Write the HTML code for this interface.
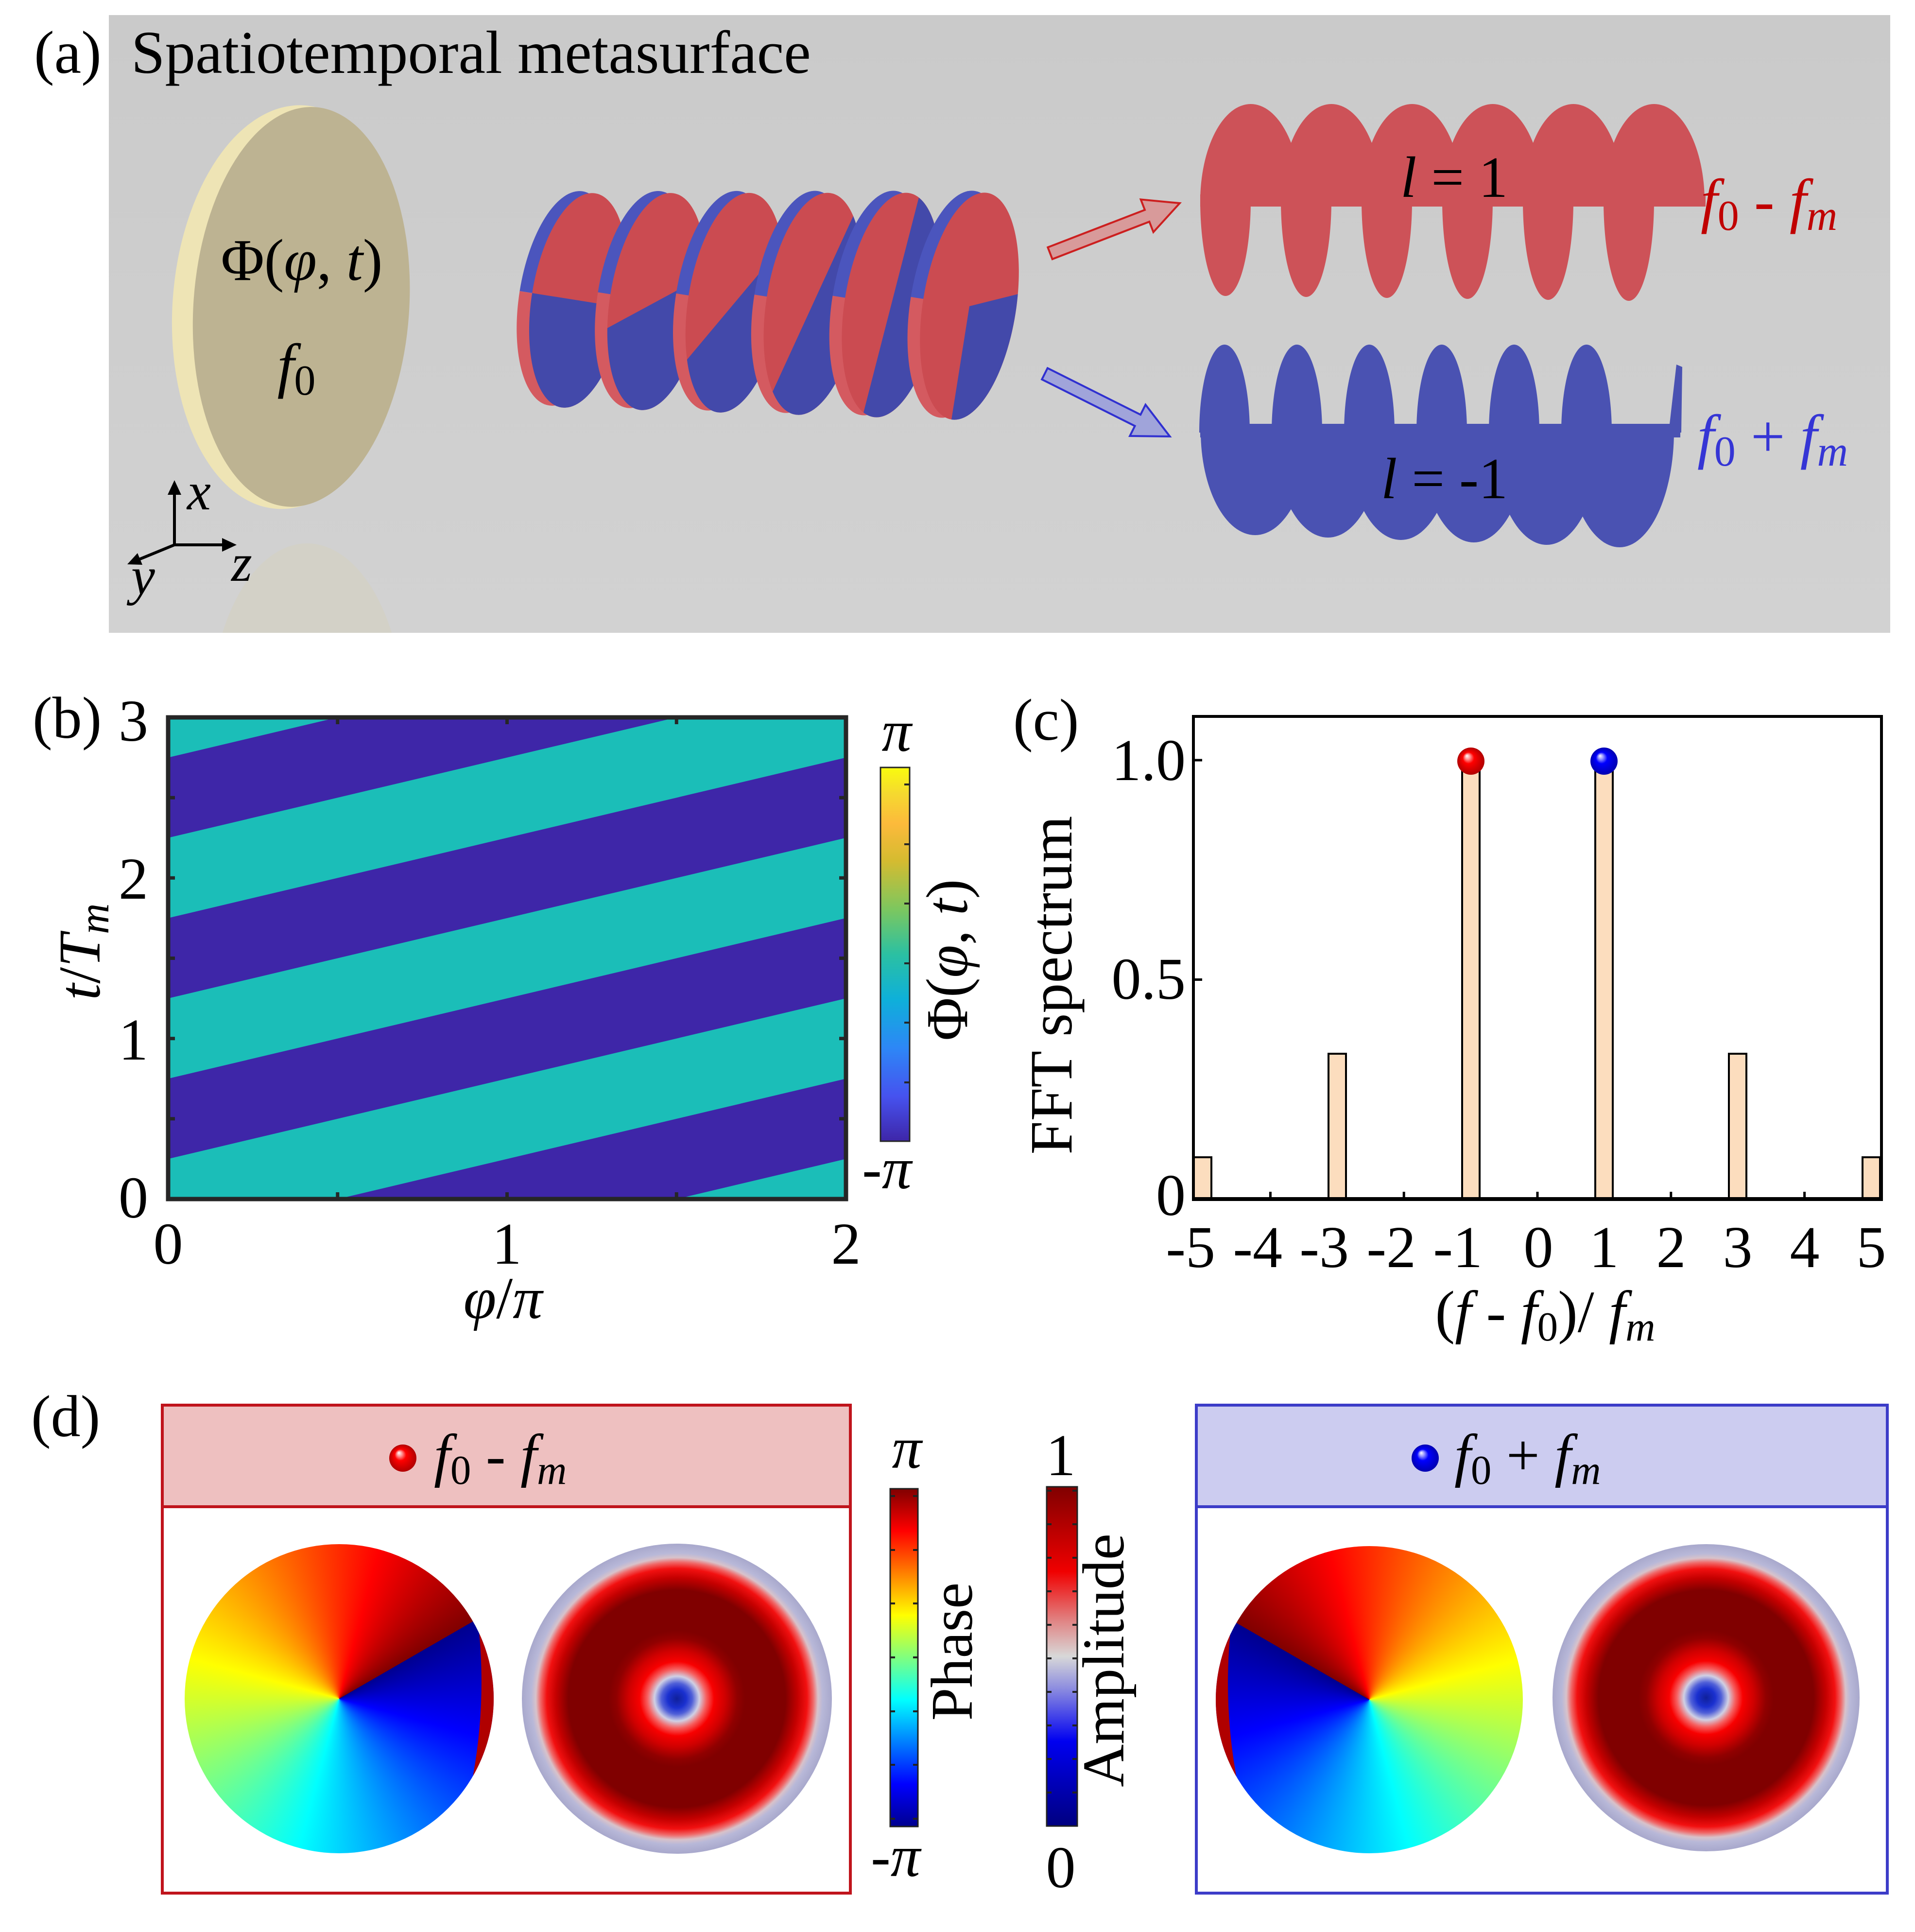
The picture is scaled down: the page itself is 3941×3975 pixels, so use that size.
<!DOCTYPE html>
<html><head><meta charset="utf-8"><style>
html,body{margin:0;padding:0;background:#fff;}
#root{position:relative;width:3941px;height:3975px;overflow:hidden;background:#fff;}
svg{position:absolute;left:0;top:0;}
.pd{position:absolute;border-radius:50%;}
</style></head><body><div id="root">
<svg width="3941" height="3975" viewBox="0 0 3941 3975" font-family="'Liberation Serif', serif">
<defs>
<linearGradient id="bgA" x1="0" y1="0" x2="0" y2="1"><stop offset="0" stop-color="#CACACA"/><stop offset="1" stop-color="#D2D2D2"/></linearGradient>
<linearGradient id="parula" x1="0" y1="1" x2="0" y2="0">
<stop offset="0" stop-color="#3E26A8"/><stop offset="0.12" stop-color="#4652EF"/><stop offset="0.25" stop-color="#2D87F6"/><stop offset="0.38" stop-color="#0EB0D9"/><stop offset="0.5" stop-color="#2BC0A2"/><stop offset="0.62" stop-color="#7CC75F"/><stop offset="0.75" stop-color="#D5BB30"/><stop offset="0.85" stop-color="#FCBA3B"/><stop offset="0.93" stop-color="#F5D92F"/><stop offset="1" stop-color="#F9FB0E"/>
</linearGradient>
<linearGradient id="jet" x1="0" y1="1" x2="0" y2="0">
<stop offset="0" stop-color="#00008F"/><stop offset="0.125" stop-color="#0000FF"/><stop offset="0.375" stop-color="#00FFFF"/><stop offset="0.625" stop-color="#FFFF00"/><stop offset="0.875" stop-color="#FF0000"/><stop offset="1" stop-color="#800000"/>
</linearGradient>
<linearGradient id="ampc" x1="0" y1="1" x2="0" y2="0">
<stop offset="0" stop-color="#000080"/><stop offset="0.25" stop-color="#0000F0"/><stop offset="0.4" stop-color="#8888E0"/><stop offset="0.5" stop-color="#D8D8D8"/><stop offset="0.6" stop-color="#E08888"/><stop offset="0.75" stop-color="#F00000"/><stop offset="1" stop-color="#800000"/>
</linearGradient>
<radialGradient id="amp" cx="0.5" cy="0.5" r="0.5">
<stop offset="0" stop-color="#10209A"/><stop offset="0.06" stop-color="#1A30D0"/><stop offset="0.10" stop-color="#5060D8"/><stop offset="0.145" stop-color="#D0D0E4"/><stop offset="0.19" stop-color="#F66060"/><stop offset="0.24" stop-color="#F80000"/><stop offset="0.31" stop-color="#D00000"/><stop offset="0.39" stop-color="#900000"/><stop offset="0.44" stop-color="#800000"/><stop offset="0.70" stop-color="#800000"/><stop offset="0.78" stop-color="#C40000"/><stop offset="0.84" stop-color="#F21010"/><stop offset="0.88" stop-color="#F06868"/><stop offset="0.91" stop-color="#D8C2CA"/><stop offset="0.94" stop-color="#B8B8D8"/><stop offset="1" stop-color="#A8A8CC"/>
</radialGradient>
<radialGradient id="sphR" cx="0.5" cy="0.5" r="0.5" fx="0.35" fy="0.3"><stop offset="0" stop-color="#FFFFFF"/><stop offset="0.18" stop-color="#FF9A9A"/><stop offset="0.42" stop-color="#FF0000"/><stop offset="1" stop-color="#B00000"/></radialGradient>
<radialGradient id="sphB" cx="0.5" cy="0.5" r="0.5" fx="0.35" fy="0.3"><stop offset="0" stop-color="#FFFFFF"/><stop offset="0.18" stop-color="#9A9AFF"/><stop offset="0.42" stop-color="#0000FF"/><stop offset="1" stop-color="#0000B0"/></radialGradient>
<clipPath id="clipA"><rect x="224" y="31" width="3666" height="1271"/></clipPath>
<clipPath id="clipB"><rect x="346" y="1476" width="1395" height="991"/></clipPath>
<clipPath id="clipC"><rect x="2456" y="1474" width="1416" height="993"/></clipPath>
</defs>

<!-- ===== Panel (a) ===== -->
<rect x="224" y="31" width="3666" height="1271" fill="url(#bgA)"/>
<g clip-path="url(#clipA)">
<ellipse cx="632" cy="1480" rx="200" ry="362" fill="#D8D1B0" opacity="0.3"/>
</g>
<text x="70" y="150" font-size="125">(a)</text>
<text x="270" y="150" font-size="125">Spatiotemporal metasurface</text>

<!-- metasurface disk -->
<g transform="rotate(4 600 632)">
<ellipse cx="598" cy="632" rx="243" ry="416" fill="#EEE4B5"/>
<ellipse cx="620" cy="630" rx="222" ry="412" fill="#BDB392"/>
</g>
<text x="621" y="576" text-anchor="middle" font-size="122">Φ(<tspan font-style="italic">φ</tspan>, <tspan font-style="italic">t</tspan>)</text>
<text x="610" y="794" text-anchor="middle" font-size="125"><tspan font-style="italic">f</tspan><tspan font-size="88" dy="18">0</tspan></text>

<!-- axes glyph -->
<g stroke="#000" stroke-width="6" fill="none">
<line x1="359" y1="1121" x2="359" y2="1012"/>
<line x1="359" y1="1121" x2="462" y2="1121"/>
<line x1="359" y1="1121" x2="286" y2="1151"/>
</g>
<polygon points="345,1018 359,988 373,1018" fill="#000"/>
<polygon points="457,1107 487,1121 457,1135" fill="#000"/>
<polygon points="262,1161 293,1162 283,1138" fill="#000"/>
<text x="385" y="1048" font-size="110" font-style="italic">x</text>
<text x="476" y="1195" font-size="110" font-style="italic">z</text>
<text x="270" y="1222" font-size="110" font-style="italic">y</text>

<!-- middle helix -->
<g>
<g transform="translate(1190,618) rotate(9)">
 <g transform="translate(-26,0) scale(96,223)"><path d="M-1,0 A1 1 0 0 1 1,0 Z" fill="#4B55BD"/><path d="M-1,0 A1 1 0 0 0 1,0 Z" fill="#D45A60"/></g>
 <g transform="scale(96,223)"><circle r="1" fill="#CB4B51"/><path d="M1,0 A1 1 0 0 1 0,1 A1 1 0 0 1 -1,0 Z" fill="#4349AA"/></g>
</g>
<g transform="translate(1351,620.4) rotate(9)">
 <g transform="translate(-26,0) scale(96,225.6)"><path d="M-1,0 A1 1 0 0 1 1,0 Z" fill="#4B55BD"/><path d="M-1,0 A1 1 0 0 0 1,0 Z" fill="#D45A60"/></g>
 <g transform="scale(96,225.6)"><circle r="1" fill="#CB4B51"/><path d="M0.951,-0.309 A1 1 0 0 1 0.309,0.951 A1 1 0 0 1 -0.951,0.309 Z" fill="#4349AA"/></g>
</g>
<g transform="translate(1512,622.8) rotate(9)">
 <g transform="translate(-26,0) scale(96,228.2)"><path d="M-1,0 A1 1 0 0 1 1,0 Z" fill="#4B55BD"/><path d="M-1,0 A1 1 0 0 0 1,0 Z" fill="#D45A60"/></g>
 <g transform="scale(96,228.2)"><circle r="1" fill="#CB4B51"/><path d="M0.819,-0.574 A1 1 0 0 1 0.574,0.819 A1 1 0 0 1 -0.819,0.574 Z" fill="#4349AA"/></g>
</g>
<g transform="translate(1673,625.2) rotate(9)">
 <g transform="translate(-26,0) scale(96,230.8)"><path d="M-1,0 A1 1 0 0 1 1,0 Z" fill="#4B55BD"/><path d="M-1,0 A1 1 0 0 0 1,0 Z" fill="#D45A60"/></g>
 <g transform="scale(96,230.8)"><circle r="1" fill="#CB4B51"/><path d="M0.559,-0.829 A1 1 0 0 1 0.829,0.559 A1 1 0 0 1 -0.559,0.829 Z" fill="#4349AA"/></g>
</g>
<g transform="translate(1834,627.6) rotate(9)">
 <g transform="translate(-26,0) scale(96,233.4)"><path d="M-1,0 A1 1 0 0 1 1,0 Z" fill="#4B55BD"/><path d="M-1,0 A1 1 0 0 0 1,0 Z" fill="#D45A60"/></g>
 <g transform="scale(96,233.4)"><circle r="1" fill="#CB4B51"/><path d="M0.225,-0.974 A1 1 0 0 1 0.974,0.225 A1 1 0 0 1 -0.225,0.974 Z" fill="#4349AA"/></g>
</g>
<g transform="translate(1995,630) rotate(9)">
 <g transform="translate(-26,0) scale(96,236)"><path d="M-1,0 A1 1 0 0 1 1,0 Z" fill="#4B55BD"/><path d="M-1,0 A1 1 0 0 0 1,0 Z" fill="#D45A60"/></g>
 <g transform="scale(96,236)"><circle r="1" fill="#CB4B51"/><path d="M0,0 L0,1 A1 1 0 0 0 0.985,-0.17 Z" fill="#4349AA"/></g>
</g>
</g>

<!-- arrows -->
<g transform="translate(2161,521) rotate(-21.1)"><polygon points="0,-13 214,-13 214,-36 286,0 214,36 214,13 0,13" fill="#D89A9A" stroke="#CC1F1F" stroke-width="4" stroke-linejoin="miter"/></g>
<g transform="translate(2150,769) rotate(26.6)"><polygon points="0,-13 214,-13 214,-36 288,0 214,36 214,13 0,13" fill="#A0A4DA" stroke="#3030D0" stroke-width="4"/></g>

<!-- red helix l=1 -->
<g fill="#CD5258">
<rect x="2470" y="400" width="1040" height="25"/>
<path d="M2470,415 A104 201 0 0 1 2678,415 Z"/><path d="M2470,412 A52 197 0 0 0 2574,412 Z"/>
<path d="M2636,415 A104 201 0 0 1 2844,415 Z"/><path d="M2636,412 A52 199 0 0 0 2740,412 Z"/>
<path d="M2802,415 A104 201 0 0 1 3010,415 Z"/><path d="M2802,412 A52 201 0 0 0 2906,412 Z"/>
<path d="M2968,415 A104 201 0 0 1 3176,415 Z"/><path d="M2968,412 A52 203 0 0 0 3072,412 Z"/>
<path d="M3134,415 A104 201 0 0 1 3342,415 Z"/><path d="M3134,412 A52 205 0 0 0 3238,412 Z"/>
<path d="M3300,415 A104 201 0 0 1 3508,415 Z"/><path d="M3300,412 A52 207 0 0 0 3404,412 Z"/>
</g>
<!-- blue helix l=-1 -->
<g fill="#4A52B2">
<rect x="2470" y="872" width="988" height="28"/>
<path d="M2468,890 A52 181 0 0 1 2572,890 Z"/>
<path d="M2617,890 A52 181 0 0 1 2721,890 Z"/>
<path d="M2766,890 A52 181 0 0 1 2870,890 Z"/>
<path d="M2915,890 A52 181 0 0 1 3019,890 Z"/>
<path d="M3064,890 A52 181 0 0 1 3168,890 Z"/>
<path d="M3213,890 A52 181 0 0 1 3317,890 Z"/>
<polygon points="3434,890 3450,750 3462,755 3460,890"/>
<path d="M2471,887 A112 214 0 0 0 2695,887 Z"/>
<path d="M2621,887 A112 219 0 0 0 2845,887 Z"/>
<path d="M2771,887 A112 224 0 0 0 2995,887 Z"/>
<path d="M2921,887 A112 229 0 0 0 3145,887 Z"/>
<path d="M3071,887 A112 234 0 0 0 3295,887 Z"/>
<path d="M3221,887 A112 239 0 0 0 3445,887 Z"/>
</g>
<text x="2882" y="405" font-size="120"><tspan font-style="italic">l</tspan> = 1</text>
<text x="2842" y="1025" font-size="120"><tspan font-style="italic">l</tspan> = -1</text>
<text x="3500" y="455" font-size="125" fill="#C00000"><tspan font-style="italic">f</tspan><tspan font-size="88" dy="18">0</tspan><tspan dy="-18"> - </tspan><tspan font-style="italic">f</tspan><tspan font-size="88" dy="18" font-style="italic">m</tspan></text>
<text x="3493" y="940" font-size="125" fill="#3535D5"><tspan font-style="italic">f</tspan><tspan font-size="88" dy="18">0</tspan><tspan dy="-18"> + </tspan><tspan font-style="italic">f</tspan><tspan font-size="88" dy="18" font-style="italic">m</tspan></text>

<!-- ===== Panel (b) ===== -->
<text x="67" y="1518" font-size="122">(b)</text>
<g clip-path="url(#clipB)">
<rect x="346" y="1476" width="1395" height="991" fill="#3E26A8"/>
<g fill="#1BBEB8">
<polygon points="346,2880 1741,2550 1741,2384.4 346,2714.7"/>
<polygon points="346,2549.6 1741,2219.3 1741,2054.1 346,2384.4"/>
<polygon points="346,2219.3 1741,1888.9 1741,1723.8 346,2054.1"/>
<polygon points="346,1888.9 1741,1558.6 1741,1393.4 346,1723.8"/>
<polygon points="346,1558.6 1741,1228.3 1741,1063 346,1393.4"/>
</g>
</g>
<g stroke="#262626" stroke-width="7">
<line x1="694.75" y1="2467" x2="694.75" y2="2453"/><line x1="1043.5" y1="2467" x2="1043.5" y2="2453"/><line x1="1392.25" y1="2467" x2="1392.25" y2="2453"/>
<line x1="694.75" y1="1476" x2="694.75" y2="1490"/><line x1="1043.5" y1="1476" x2="1043.5" y2="1490"/><line x1="1392.25" y1="1476" x2="1392.25" y2="1490"/>
<line x1="346" y1="2301.8" x2="360" y2="2301.8"/><line x1="346" y1="2136.7" x2="360" y2="2136.7"/><line x1="346" y1="1971.5" x2="360" y2="1971.5"/><line x1="346" y1="1806.3" x2="360" y2="1806.3"/><line x1="346" y1="1641.2" x2="360" y2="1641.2"/>
<line x1="1741" y1="2301.8" x2="1727" y2="2301.8"/><line x1="1741" y1="2136.7" x2="1727" y2="2136.7"/><line x1="1741" y1="1971.5" x2="1727" y2="1971.5"/><line x1="1741" y1="1806.3" x2="1727" y2="1806.3"/><line x1="1741" y1="1641.2" x2="1727" y2="1641.2"/>
</g>
<rect x="346" y="1476" width="1395" height="991" fill="none" stroke="#262626" stroke-width="9"/>
<g font-size="122">
<text x="346" y="2600" text-anchor="middle">0</text>
<text x="1043" y="2600" text-anchor="middle">1</text>
<text x="1741" y="2600" text-anchor="middle">2</text>
<text x="305" y="1524" text-anchor="end">3</text>
<text x="305" y="1849" text-anchor="end">2</text>
<text x="305" y="2180" text-anchor="end">1</text>
<text x="305" y="2505" text-anchor="end">0</text>
<text x="1035" y="2712" text-anchor="middle"><tspan font-style="italic">φ</tspan>/<tspan font-style="italic">π</tspan></text>
<text transform="translate(205,1958) rotate(-90)" text-anchor="middle"><tspan font-style="italic">t</tspan>/<tspan font-style="italic">T</tspan><tspan font-size="88" dy="18" font-style="italic">m</tspan></text>
</g>
<rect x="1812" y="1579" width="60" height="769" fill="url(#parula)" stroke="#262626" stroke-width="3"/>
<g stroke="#262626" stroke-width="4">
<line x1="1872" y1="1614" x2="1861" y2="1614"/><line x1="1872" y1="1737" x2="1861" y2="1737"/><line x1="1872" y1="1859" x2="1861" y2="1859"/><line x1="1872" y1="1982" x2="1861" y2="1982"/><line x1="1872" y1="2104" x2="1861" y2="2104"/><line x1="1872" y1="2227" x2="1861" y2="2227"/>
</g>
<g font-size="122">
<text x="1845" y="1545" text-anchor="middle" font-style="italic">π</text>
<text x="1825" y="2445" text-anchor="middle">-<tspan font-style="italic">π</tspan></text>
<text transform="translate(1990,1975) rotate(-90)" text-anchor="middle">Φ(<tspan font-style="italic">φ</tspan>, <tspan font-style="italic">t</tspan>)</text>
</g>

<!-- ===== Panel (c) ===== -->
<text x="2085" y="1522" font-size="122">(c)</text>
<rect x="2456" y="1474" width="1416" height="993" fill="#fff"/>
<g clip-path="url(#clipC)" fill="#FCDDBE" stroke="#000" stroke-width="4">
<rect x="2457" y="2381" width="36" height="86"/>
<rect x="2734" y="2168" width="36" height="299"/>
<rect x="3009" y="1564" width="36" height="903"/>
<rect x="3283" y="1564" width="36" height="903"/>
<rect x="3558" y="2168" width="36" height="299"/>
<rect x="3833" y="2381" width="36" height="86"/>
</g>
<g stroke="#000" stroke-width="5">
<line x1="2614.4" y1="2467" x2="2614.4" y2="2452"/><line x1="2889.2" y1="2467" x2="2889.2" y2="2452"/><line x1="3164" y1="2467" x2="3164" y2="2452"/><line x1="3438.8" y1="2467" x2="3438.8" y2="2452"/><line x1="3713.6" y1="2467" x2="3713.6" y2="2452"/>
<line x1="2456" y1="1564" x2="2474" y2="1564"/><line x1="2456" y1="2015.5" x2="2474" y2="2015.5"/>
</g>
<rect x="2456" y="1474" width="1416" height="993" fill="none" stroke="#000" stroke-width="6"/>
<line x1="2453" y1="2467" x2="3875" y2="2467" stroke="#000" stroke-width="8"/>
<circle cx="3027" cy="1566" r="28" fill="url(#sphR)"/>
<circle cx="3301" cy="1566" r="28" fill="url(#sphB)"/>
<g font-size="122">
<text x="2440" y="1605" text-anchor="end">1.0</text>
<text x="2440" y="2055" text-anchor="end">0.5</text>
<text x="2440" y="2500" text-anchor="end">0</text>
<text x="2501" y="2607" text-anchor="end">-5</text>
<text x="2639" y="2607" text-anchor="end">-4</text>
<text x="2776" y="2607" text-anchor="end">-3</text>
<text x="2914" y="2607" text-anchor="end">-2</text>
<text x="3051" y="2607" text-anchor="end">-1</text>
<text x="3166" y="2607" text-anchor="middle">0</text>
<text x="3301" y="2607" text-anchor="middle">1</text>
<text x="3439" y="2607" text-anchor="middle">2</text>
<text x="3576" y="2607" text-anchor="middle">3</text>
<text x="3714" y="2607" text-anchor="middle">4</text>
<text x="3851" y="2607" text-anchor="middle">5</text>
<text x="3180" y="2740" text-anchor="middle">(<tspan font-style="italic">f</tspan> - <tspan font-style="italic">f</tspan><tspan font-size="85" dy="18">0</tspan><tspan dy="-18">)/ </tspan><tspan font-style="italic">f</tspan><tspan font-size="85" dy="18" font-style="italic">m</tspan></text>
<text transform="translate(2205,2027) rotate(-90)" text-anchor="middle" font-size="124">FFT spectrum</text>
</g>

<!-- ===== Panel (d) ===== -->
<text x="64" y="2955" font-size="122">(d)</text>
<rect x="334" y="2891" width="1416" height="209" fill="#EEC0C0"/>
<rect x="334" y="2891" width="1416" height="1004" fill="none" stroke="#C0141C" stroke-width="6"/>
<line x1="334" y1="3100" x2="1750" y2="3100" stroke="#C0141C" stroke-width="6"/>
<circle cx="829" cy="3000" r="28" fill="url(#sphR)"/>
<text x="893" y="3035" font-size="122"><tspan font-style="italic">f</tspan><tspan font-size="85" dy="18">0</tspan><tspan dy="-18"> - </tspan><tspan font-style="italic">f</tspan><tspan font-size="85" dy="18" font-style="italic">m</tspan></text>
<circle cx="1393" cy="3495" r="319" fill="url(#amp)"/>

<rect x="2462" y="2891" width="1422" height="209" fill="#CCCCF0"/>
<rect x="2462" y="2891" width="1422" height="1004" fill="none" stroke="#3C3CC8" stroke-width="6"/>
<line x1="2462" y1="3100" x2="3884" y2="3100" stroke="#3C3CC8" stroke-width="6"/>
<circle cx="2933" cy="3000" r="28" fill="url(#sphB)"/>
<text x="2993" y="3035" font-size="122"><tspan font-style="italic">f</tspan><tspan font-size="85" dy="18">0</tspan><tspan dy="-18"> + </tspan><tspan font-style="italic">f</tspan><tspan font-size="85" dy="18" font-style="italic">m</tspan></text>
<circle cx="3511" cy="3493" r="316" fill="url(#amp)"/>

<rect x="1832" y="3063" width="57" height="695" fill="url(#jet)" stroke="#222" stroke-width="3"/>
<g stroke="#222" stroke-width="4">
<line x1="1832" y1="3078" x2="1842" y2="3078"/><line x1="1832" y1="3189" x2="1842" y2="3189"/><line x1="1832" y1="3299" x2="1842" y2="3299"/><line x1="1832" y1="3410" x2="1842" y2="3410"/><line x1="1832" y1="3521" x2="1842" y2="3521"/><line x1="1832" y1="3631" x2="1842" y2="3631"/><line x1="1832" y1="3742" x2="1842" y2="3742"/>
<line x1="1889" y1="3078" x2="1879" y2="3078"/><line x1="1889" y1="3189" x2="1879" y2="3189"/><line x1="1889" y1="3299" x2="1879" y2="3299"/><line x1="1889" y1="3410" x2="1879" y2="3410"/><line x1="1889" y1="3521" x2="1879" y2="3521"/><line x1="1889" y1="3631" x2="1879" y2="3631"/><line x1="1889" y1="3742" x2="1879" y2="3742"/>
</g>
<rect x="2154" y="3059" width="63" height="698" fill="url(#ampc)" stroke="#222" stroke-width="3"/>
<g stroke="#222" stroke-width="4">
<line x1="2154" y1="3067" x2="2164" y2="3067"/><line x1="2154" y1="3136" x2="2164" y2="3136"/><line x1="2154" y1="3205" x2="2164" y2="3205"/><line x1="2154" y1="3274" x2="2164" y2="3274"/><line x1="2154" y1="3343" x2="2164" y2="3343"/><line x1="2154" y1="3412" x2="2164" y2="3412"/><line x1="2154" y1="3481" x2="2164" y2="3481"/><line x1="2154" y1="3550" x2="2164" y2="3550"/><line x1="2154" y1="3619" x2="2164" y2="3619"/><line x1="2154" y1="3688" x2="2164" y2="3688"/>
<line x1="2217" y1="3067" x2="2207" y2="3067"/><line x1="2217" y1="3136" x2="2207" y2="3136"/><line x1="2217" y1="3205" x2="2207" y2="3205"/><line x1="2217" y1="3274" x2="2207" y2="3274"/><line x1="2217" y1="3343" x2="2207" y2="3343"/><line x1="2217" y1="3412" x2="2207" y2="3412"/><line x1="2217" y1="3481" x2="2207" y2="3481"/><line x1="2217" y1="3550" x2="2207" y2="3550"/><line x1="2217" y1="3619" x2="2207" y2="3619"/><line x1="2217" y1="3688" x2="2207" y2="3688"/>
</g>
<g font-size="122">
<text x="1866" y="3020" text-anchor="middle" font-style="italic">π</text>
<text x="1843" y="3860" text-anchor="middle">-<tspan font-style="italic">π</tspan></text>
<text transform="translate(2000,3398) rotate(-90)" text-anchor="middle">Phase</text>
<text x="2183" y="3035" text-anchor="middle">1</text>
<text x="2183" y="3883" text-anchor="middle">0</text>
<text transform="translate(2312,3416) rotate(-90)" text-anchor="middle">Amplitude</text>
</g>
</svg>
<div class="pd" style="left:380px;top:3177px;width:636px;height:636px;background:conic-gradient(from 60deg, #00008F 0deg, #0000FF 45deg, #00FFFF 135deg, #FFFF00 225deg, #FF0000 315deg, #800000 360deg);"></div>
<div class="pd" style="left:2502px;top:3181px;width:632px;height:632px;background:conic-gradient(from 300deg, #800000 0deg, #FF0000 45deg, #FFFF00 135deg, #00FFFF 225deg, #0000FF 315deg, #00008F 360deg);"></div>
<svg width="3941" height="3975" viewBox="0 0 3941 3975" style="pointer-events:none">
<path d="M986.2,3360.6 A318 318 0 0 1 973.4,3654 A1083 1083 0 0 0 986.2,3360.6 Z" fill="#B00000"/>
<path d="M2531.6,3363.5 A316 316 0 0 0 2544.3,3655 A1083 1083 0 0 1 2531.6,3363.5 Z" fill="#B00000"/>
</svg>
</div></body></html>
